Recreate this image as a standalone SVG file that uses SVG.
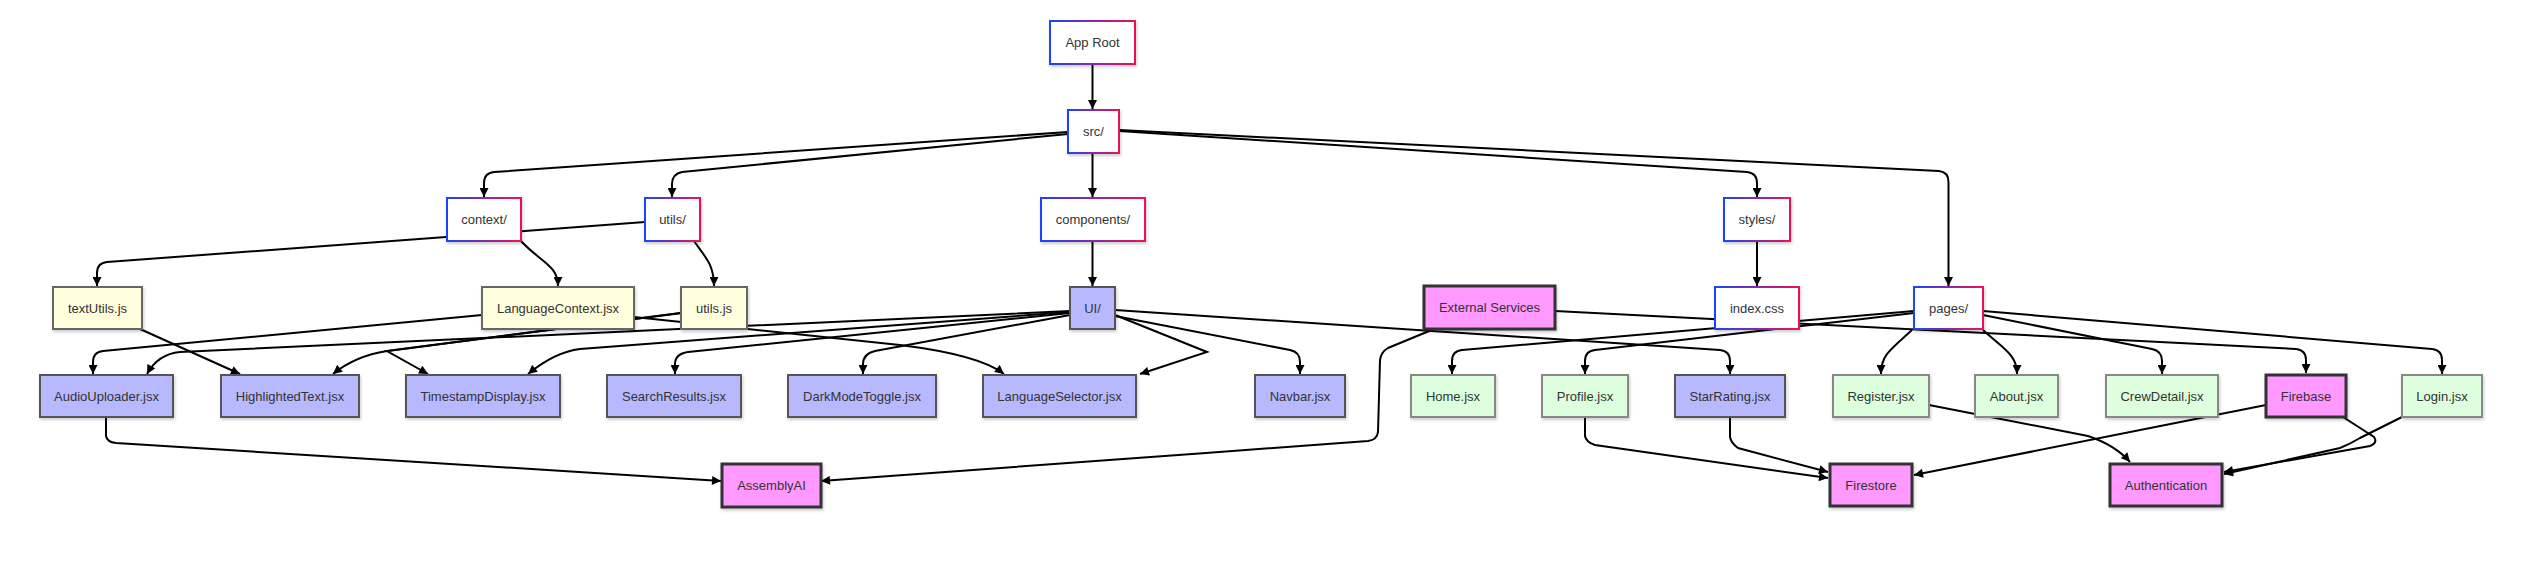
<svg xmlns="http://www.w3.org/2000/svg" width="2544" height="570" viewBox="0 0 2544 570">
<style>
text{font-family:"Liberation Sans",Arial,sans-serif;font-size:13px;fill:#333;text-anchor:middle;dominant-baseline:central}
.n rect{filter:url(#sh)}
.dir rect{fill:#fff;stroke:url(#gr);stroke-width:2}
.yel rect{fill:#ffffdd;stroke:#666;stroke-width:2}
.blu rect{fill:#b8b8ff;stroke:#555;stroke-width:2}
.grn rect{fill:#ddffdd;stroke:#888;stroke-width:2}
.ext rect{fill:#ff99ff;stroke:#333;stroke-width:3}
.edges path{fill:none;stroke:#000;stroke-width:2;marker-end:url(#ar)}
</style>
<defs>
<linearGradient id="gr" x1="0" y1="0" x2="1" y2="0"><stop offset="0" stop-color="#1a44ff"/><stop offset="1" stop-color="#ee1155"/></linearGradient>
<filter id="sh" x="-10%" y="-10%" width="130%" height="140%"><feDropShadow dx="1" dy="2" stdDeviation="1.5" flood-color="#000" flood-opacity="0.2"/></filter>
<marker id="ar" viewBox="0 0 10 10" refX="10" refY="5" markerWidth="10" markerHeight="9" markerUnits="userSpaceOnUse" orient="auto"><path d="M0,0 L10,5 L0,10 z" fill="#000"/></marker>
</defs>
<rect width="2544" height="570" fill="#fff"/>
<g class="edges" id="connectors">
<path d="M1092.5,64 L1092.5,109"/>
<path d="M1068,132 L494,172 Q484,173 484,183 L484,197"/>
<path d="M1068,134 L682,172 Q672,174 672,184 L672,197"/>
<path d="M1092.5,153 L1092.5,197"/>
<path d="M1119,131 L1747,172 Q1757,173 1757,183 L1757,197"/>
<path d="M1119,130 L1939,171 Q1948.5,172 1948.5,182 L1948.5,286"/>
<path d="M520,240 C540,262 558,265 558,286"/>
<path d="M645,222 L446,237 L107,262 Q97,263 97,273 L97,286"/>
<path d="M694,241 C706,258 714,265 714,286"/>
<path d="M1092.5,241 L1092.5,286"/>
<path d="M1757,241 L1757,286"/>
<path d="M482,315 L103,351 Q93,352 93,362 L93,374"/>
<path d="M1070,311 L180,352 Q158,354 147,374"/>
<path d="M140,329 L240,374"/>
<path d="M681,313 L387,351 Q355,356 333,374"/>
<path d="M681,313 L387,351 L428,374"/>
<path d="M1070,312 L580,349 Q555,352 528,374"/>
<path d="M1070,313 L688,352 Q675,354 675,364 L675,374"/>
<path d="M1070,315 L875,351 Q863,354 863,364 L863,374"/>
<path d="M634,317 L900,345 Q980,355 1004,374"/>
<path d="M1115,315 L1207,352 L1140,374"/>
<path d="M1115,316 L1290,350 Q1300,352 1300,362 L1300,374"/>
<path d="M1115,310 L1720,350 Q1730,351 1730,361 L1730,374"/>
<path d="M1914,311 L1462,350 Q1452,351 1452,361 L1452,374"/>
<path d="M1914,313 L1595,350 Q1585,351 1585,361 L1585,374"/>
<path d="M1912,330 C1890,350 1881,355 1881,374"/>
<path d="M1983,330 C2005,350 2017,355 2017,374"/>
<path d="M1983,315 L2152,349 Q2162,351 2162,361 L2162,374"/>
<path d="M1983,311 L2432,349 Q2442,350 2442,360 L2442,374"/>
<path d="M1555,311 L2296,349 Q2306,350 2306,360 L2306,373"/>
<path d="M1434,329 L1388,348 Q1381,352 1380,360 L1378,432 Q1377,440 1368,441 L1206,453 L821,481"/>
<path d="M106,417 L106,436 Q107,442 116,443 L721,481"/>
<path d="M1585,417 L1585,436 Q1586,442 1595,445 L1828,478"/>
<path d="M1730,417 L1730,437 Q1731,443 1738,448 L1828,472"/>
<path d="M1929,405 L2088,436 Q2115,445 2130,462"/>
<path d="M2266,405 L1914,475"/>
<path d="M2343,417 L2374,437 Q2378,443 2370,446 L2224,472"/>
<path d="M2402,417 L2360,438 Q2350,444 2340,448 L2224,474"/>
</g>
<g id="n-approot" class="n dir"><rect x="1050" y="21" width="85" height="43"/><text x="1092.5" y="42.5">App Root</text></g>
<g id="n-src" class="n dir"><rect x="1068" y="110" width="51" height="43"/><text x="1093.5" y="131.5">src/</text></g>
<g id="n-context" class="n dir"><rect x="447" y="198" width="74" height="43"/><text x="484" y="219.5">context/</text></g>
<g id="n-utils" class="n dir"><rect x="645" y="198" width="55" height="43"/><text x="672.5" y="219.5">utils/</text></g>
<g id="n-components" class="n dir"><rect x="1041" y="198" width="104" height="43"/><text x="1093" y="219.5">components/</text></g>
<g id="n-styles" class="n dir"><rect x="1724" y="198" width="66" height="43"/><text x="1757" y="219.5">styles/</text></g>
<g id="n-textutils" class="n yel"><rect x="53" y="287" width="89" height="42"/><text x="97.5" y="308">textUtils.js</text></g>
<g id="n-langctx" class="n yel"><rect x="482" y="287" width="152" height="42"/><text x="558" y="308">LanguageContext.jsx</text></g>
<g id="n-utilsjs" class="n yel"><rect x="681" y="287" width="66" height="42"/><text x="714" y="308">utils.js</text></g>
<g id="n-ui" class="n blu"><rect x="1070" y="287" width="45" height="42"/><text x="1092.5" y="308">UI/</text></g>
<g id="n-external" class="n ext"><rect x="1424" y="286" width="131" height="43"/><text x="1489.5" y="307.5">External Services</text></g>
<g id="n-indexcss" class="n dir"><rect x="1715" y="287" width="84" height="42"/><text x="1757" y="308">index.css</text></g>
<g id="n-pages" class="n dir"><rect x="1914" y="287" width="69" height="42"/><text x="1948.5" y="308">pages/</text></g>
<g id="n-audio" class="n blu"><rect x="40" y="375" width="133" height="42"/><text x="106.5" y="396">AudioUploader.jsx</text></g>
<g id="n-highlight" class="n blu"><rect x="221" y="375" width="138" height="42"/><text x="290" y="396">HighlightedText.jsx</text></g>
<g id="n-timestamp" class="n blu"><rect x="406" y="375" width="154" height="42"/><text x="483" y="396">TimestampDisplay.jsx</text></g>
<g id="n-search" class="n blu"><rect x="607" y="375" width="134" height="42"/><text x="674" y="396">SearchResults.jsx</text></g>
<g id="n-darkmode" class="n blu"><rect x="788" y="375" width="148" height="42"/><text x="862" y="396">DarkModeToggle.jsx</text></g>
<g id="n-langsel" class="n blu"><rect x="983" y="375" width="153" height="42"/><text x="1059.5" y="396">LanguageSelector.jsx</text></g>
<g id="n-navbar" class="n blu"><rect x="1255" y="375" width="90" height="42"/><text x="1300" y="396">Navbar.jsx</text></g>
<g id="n-home" class="n grn"><rect x="1411" y="375" width="84" height="42"/><text x="1453" y="396">Home.jsx</text></g>
<g id="n-profile" class="n grn"><rect x="1542" y="375" width="86" height="42"/><text x="1585" y="396">Profile.jsx</text></g>
<g id="n-star" class="n blu"><rect x="1675" y="375" width="110" height="42"/><text x="1730" y="396">StarRating.jsx</text></g>
<g id="n-register" class="n grn"><rect x="1833" y="375" width="96" height="42"/><text x="1881" y="396">Register.jsx</text></g>
<g id="n-about" class="n grn"><rect x="1975" y="375" width="83" height="42"/><text x="2016.5" y="396">About.jsx</text></g>
<g id="n-crew" class="n grn"><rect x="2106" y="375" width="112" height="42"/><text x="2162" y="396">CrewDetail.jsx</text></g>
<g id="n-firebase" class="n ext"><rect x="2266" y="375" width="80" height="42"/><text x="2306" y="396">Firebase</text></g>
<g id="n-login" class="n grn"><rect x="2402" y="375" width="80" height="42"/><text x="2442" y="396">Login.jsx</text></g>
<g id="n-assembly" class="n ext"><rect x="722" y="464" width="99" height="43"/><text x="771.5" y="485.5">AssemblyAI</text></g>
<g id="n-firestore" class="n ext"><rect x="1830" y="464" width="82" height="42"/><text x="1871" y="485">Firestore</text></g>
<g id="n-auth" class="n ext"><rect x="2110" y="464" width="112" height="42"/><text x="2166" y="485">Authentication</text></g>
</svg>
